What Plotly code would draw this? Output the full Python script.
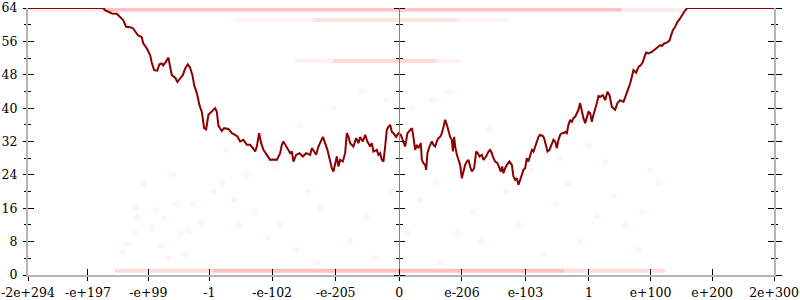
import plotly.graph_objects as go

# x axis: float bit pattern (units of 1e18), y: value 0..64
X_TICKS = [-9.010, -7.554, -6.088, -4.607, -3.081, -1.540, 0.0,
           1.525, 3.066, 4.607, 6.103, 7.599, 9.100]
X_LABELS = ["-2e+294", "-e+197", "-e+99", "-1", "-e-102", "-e-205", "0",
            "e-206", "e-103", "1", "e+100", "e+200", "2e+300"]
Y_TICKS = [0, 8, 16, 24, 32, 40, 48, 56, 64]
Y_MINOR = [4, 12, 20, 28, 36, 44, 52, 60]
X_RANGE = [-9.010, 9.100]

line_x = [-9.010, -7.186, -7.138, -6.975, -6.854, -6.774, -6.701, -6.628, -6.531, -6.458,
          -6.385, -6.337, -6.247, -6.215, -6.125, -6.045, -6.004, -5.948, -5.875, -5.819,
          -5.761, -5.730, -5.664, -5.601, -5.560, -5.518, -5.438, -5.382, -5.317, -5.251,
          -5.195, -5.130, -5.074, -5.018, -4.977, -4.911, -4.848, -4.790, -4.734, -4.686,
          -4.630, -4.547, -4.467, -4.426, -4.387, -4.305, -4.249, -4.144, -4.062, -3.982,
          -3.926, -3.860, -3.780, -3.698, -3.617, -3.552, -3.496, -3.455, -3.399, -3.350,
          -3.294, -3.212, -3.132, -3.052, -2.969, -2.889, -2.848, -2.809, -2.726, -2.646,
          -2.605, -2.566, -2.501, -2.420, -2.338, -2.258, -2.161, -2.119, -2.064, -2.015,
          -1.959, -1.901, -1.852, -1.797, -1.741, -1.692, -1.634, -1.595, -1.554, -1.513,
          -1.474, -1.432, -1.367, -1.311, -1.270, -1.231, -1.190, -1.110, -1.044, -0.988,
          -0.947, -0.881, -0.825, -0.770, -0.704, -0.663, -0.624, -0.541, -0.503, -0.461,
          -0.420, -0.381, -0.340, -0.299, -0.260, -0.218, -0.177, -0.138, -0.073, -0.017,
          0.041, 0.104, 0.146, 0.202, 0.267, 0.308, 0.333, 0.364, 0.388, 0.430,
          0.469, 0.527, 0.551, 0.590, 0.631, 0.656, 0.687, 0.736, 0.794, 0.833,
          0.874, 0.915, 0.954, 0.995, 1.037, 1.076, 1.117, 1.158, 1.197, 1.238,
          1.279, 1.304, 1.335, 1.360, 1.401, 1.440, 1.481, 1.522, 1.561, 1.602,
          1.644, 1.682, 1.724, 1.765, 1.821, 1.869, 1.911, 1.950, 2.008, 2.047,
          2.112, 2.168, 2.209, 2.251, 2.289, 2.331, 2.387, 2.435, 2.469, 2.501,
          2.532, 2.573, 2.615, 2.678, 2.736, 2.775, 2.816, 2.857, 2.896, 2.938,
          2.979, 3.018, 3.059, 3.100, 3.139, 3.180, 3.222, 3.261, 3.302, 3.343,
          3.382, 3.423, 3.489, 3.520, 3.569, 3.601, 3.649, 3.707, 3.746, 3.787,
          3.829, 3.867, 3.909, 3.950, 3.989, 4.030, 4.071, 4.110, 4.152, 4.193,
          4.232, 4.273, 4.314, 4.353, 4.394, 4.436, 4.474, 4.516, 4.557, 4.596,
          4.637, 4.678, 4.717, 4.758, 4.800, 4.839, 4.880, 4.945, 5.001, 5.057,
          5.106, 5.164, 5.244, 5.300, 5.365, 5.446, 5.511, 5.567, 5.608, 5.649,
          5.688, 5.754, 5.810, 5.868, 5.917, 5.955, 5.997, 6.052, 6.135, 6.215,
          6.295, 6.337, 6.378, 6.434, 6.499, 6.562, 6.604, 6.645, 6.701, 6.757,
          6.822, 6.864, 6.919, 6.985, 7.016, 9.100]
line_y = [64.0, 64.0, 63.5, 62.7, 62.6, 61.9, 61.1, 59.5, 59.4, 59.1,
          58.0, 57.4, 57.0, 55.6, 54.3, 52.7, 50.8, 49.1, 49.0, 50.5,
          50.7, 50.2, 51.1, 52.1, 49.9, 47.9, 47.3, 46.3, 47.1, 47.9,
          49.5, 50.5, 49.7, 47.9, 45.5, 43.6, 40.7, 39.1, 35.2, 34.9,
          38.4, 39.3, 40.0, 39.1, 35.8, 34.5, 35.2, 35.0, 34.0, 33.6,
          33.2, 32.0, 32.4, 31.2, 31.2, 30.4, 29.6, 30.8, 34.0, 31.6,
          30.0, 28.8, 27.6, 27.7, 27.6, 29.2, 31.2, 32.0, 30.4, 29.2,
          29.6, 27.2, 28.8, 29.2, 28.4, 29.2, 28.8, 30.4, 29.6, 28.8,
          30.8, 32.0, 33.1, 31.6, 30.0, 28.0, 25.6, 24.8, 26.8, 28.4,
          26.0, 27.6, 27.2, 29.2, 34.0, 33.1, 31.6, 30.8, 32.8, 31.6,
          33.1, 32.0, 33.6, 32.0, 30.8, 31.6, 29.6, 30.0, 28.8, 29.2,
          27.6, 27.2, 30.8, 34.8, 35.5, 36.0, 34.3, 34.0, 33.1, 34.0,
          33.6, 32.0, 30.8, 34.0, 34.8, 35.2, 34.0, 31.6, 30.0, 31.2,
          30.4, 31.6, 27.6, 26.8, 26.4, 25.2, 29.2, 30.8, 32.0, 31.2,
          30.8, 32.0, 32.8, 33.1, 34.0, 35.5, 37.2, 36.0, 34.3, 33.1,
          32.4, 29.6, 33.1, 30.8, 28.8, 27.6, 26.4, 23.2, 25.2, 26.4,
          27.2, 27.6, 26.0, 24.8, 25.6, 29.6, 29.2, 28.4, 28.8, 27.6,
          28.4, 29.6, 30.0, 29.2, 28.0, 27.2, 26.8, 25.6, 24.8, 26.0,
          24.4, 25.6, 26.4, 27.2, 26.4, 23.6, 22.8, 23.2, 21.6, 22.8,
          24.4, 25.2, 25.6, 28.0, 27.2, 28.8, 30.0, 29.6, 30.8, 32.4,
          33.1, 33.6, 33.3, 32.8, 30.8, 29.6, 30.0, 31.2, 32.4, 32.0,
          30.4, 32.4, 33.6, 34.0, 34.0, 34.3, 34.0, 36.0, 37.2, 36.7,
          37.6, 37.9, 38.8, 39.6, 41.2, 39.1, 37.6, 36.4, 37.9, 39.1,
          38.8, 36.7, 38.4, 39.6, 41.2, 42.9, 42.7, 43.1, 41.9, 43.9,
          43.1, 40.3, 39.6, 41.2, 41.9, 41.5, 43.6, 44.8, 45.9, 47.7,
          49.1, 48.5, 49.9, 50.3, 51.1, 52.3, 53.3, 53.1, 53.5, 54.1,
          54.7, 55.1, 54.9, 55.5, 55.7, 56.2, 57.5, 58.7, 59.5, 60.7,
          61.5, 62.3, 63.1, 63.9, 64.0, 64.0]

# dense bands of faint samples: (x start, x end, y, opacity)
band_x0 = [-8.95, -7.20, -4.03, -2.10, -2.52, -1.60, -6.90, -4.50]
band_x1 = [6.90, 5.40, 2.62, 1.40, 1.48, 0.90, 6.46, 4.00]
band_y = [63.6, 63.6, 61.1, 61.1, 51.3, 51.3, 1.0, 1.0]
band_a = [0.08, 0.16, 0.05, 0.06, 0.06, 0.09, 0.14, 0.12]

dot_x = [-6.4, -6.35, -5.9, -5.7, -6.0, -6.4, -6.6, -6.7, -5.8, -5.3, -5.1, -4.8, -5.0,
         -5.4, -5.2, -5.6, -4.5, -4.3, -4.0, -3.7, -3.5, -3.2, -2.9, -2.5, -2.2, -1.9,
         -1.5, -1.2, -0.8, -0.5, -0.3, -0.9, -1.6, -0.2, -0.6, -2.0, -3.0, -4.2, -5.5,
         -6.2, 0.3, 0.8, 1.2, 0.5, 0.9, 1.4, 1.8, 2.2, 2.6, 2.9, 3.2, 3.5, 3.8, 4.1, 4.4,
         4.8, 5.2, 5.5, 5.8, 6.1, 6.3, 4.6, 3.9, 5.0, 2.0, 1.0, 0.2, 5.9, -2.4, -3.9]
dot_y = [16, 14, 15.5, 13.5, 11, 10, 7.5, 5.5, 7, 10, 10.5, 12.5, 17,
         17, 5, 4, 20, 22, 18, 24, 15, 9, 12, 6, 20, 16,
         25, 8, 14, 30, 42, 44, 40, 20, 4, 3, 26, 30, 24,
         22, 40, 42, 44, 18, 22, 10, 15, 35, 20, 12, 25, 5, 17, 22, 8,
         14, 19, 12, 6, 25, 22, 31, 28, 27, 8, 3, 10, 15, 36, 12]

LINE_COLOR = "#8b0000"
FONT = "DejaVu Serif"
FS = 12.5

fig = go.Figure()

for x0, x1, yv, a in zip(band_x0, band_x1, band_y, band_a):
    fig.add_trace(go.Scatter(x=[x0, x1], y=[yv, yv], mode="lines",
                             line=dict(color=f"rgba(255,0,0,{a})", width=4),
                             hoverinfo="skip", showlegend=False))

fig.add_trace(go.Scatter(x=dot_x, y=dot_y, mode="markers",
                         marker=dict(size=5, color="rgba(255,0,0,0.03)",
                                     line=dict(width=1, color="rgba(255,0,0,0.05)")),
                         hoverinfo="skip", showlegend=False))

fig.add_trace(go.Scatter(x=line_x, y=line_y, mode="lines",
                         line=dict(color=LINE_COLOR, width=2),
                         hoverinfo="skip", showlegend=False))

# empty traces to attach overlay axes
for xa, ya in [("x2", "y"), ("x", "y2"), ("x", "y3"), ("x", "y4"), ("x", "y5"), ("x", "y6")]:
    fig.add_trace(go.Scatter(x=[], y=[], xaxis=xa, yaxis=ya, showlegend=False))

zero_pos = (0 - X_RANGE[0]) / (X_RANGE[1] - X_RANGE[0])

common_y = dict(range=[0, 64], tickvals=Y_TICKS, showgrid=False, zeroline=False,
                tickcolor="black", tickwidth=1, fixedrange=True, automargin=False,
                tickfont=dict(family=FONT, size=FS, color="black"))

fig.update_layout(
    template="none",
    width=800, height=300,
    margin=dict(l=28, r=26, t=8, b=25, autoexpand=False),
    paper_bgcolor="white", plot_bgcolor="white",
    font=dict(family=FONT, size=FS, color="black"),
    xaxis=dict(range=X_RANGE, tickvals=X_TICKS, ticktext=X_LABELS, showgrid=False,
               zeroline=False, ticks="outside", ticklen=4, tickcolor="black", tickwidth=1,
               showline=True, linecolor="#b5b5b5", linewidth=2, ticklabelstandoff=1,
               automargin=False, tickfont=dict(family=FONT, size=FS, color="black")),
    xaxis2=dict(range=X_RANGE, tickvals=X_TICKS, overlaying="x", anchor="y", showgrid=False,
                zeroline=False, ticks="inside", ticklen=6, tickcolor="black", tickwidth=1,
                showticklabels=False, showline=False, automargin=False),
    yaxis=dict(**common_y, ticks="outside", ticklen=3, showline=True, linecolor="#b5b5b5",
               linewidth=2, ticklabelstandoff=3,
               minor=dict(tickvals=Y_MINOR, ticks="outside", ticklen=2, tickcolor="black")),
    yaxis2=dict(**common_y, overlaying="y", side="left", anchor="x", ticks="inside", ticklen=6,
                showticklabels=False,
                minor=dict(tickvals=Y_MINOR, ticks="inside", ticklen=3, tickcolor="black")),
    yaxis3=dict(**common_y, overlaying="y", side="right", anchor="x", ticks="outside", ticklen=6,
                showticklabels=False, showline=True, linecolor="#b5b5b5", linewidth=2,
                minor=dict(tickvals=Y_MINOR, ticks="outside", ticklen=2, tickcolor="black")),
    yaxis4=dict(**common_y, overlaying="y", side="right", anchor="x", ticks="inside", ticklen=6,
                showticklabels=False,
                minor=dict(tickvals=Y_MINOR, ticks="inside", ticklen=3, tickcolor="black")),
    yaxis5=dict(**common_y, overlaying="y", side="left", anchor="free", position=zero_pos,
                ticks="outside", ticklen=5, showticklabels=False, showline=True,
                linecolor="#808080", linewidth=1,
                minor=dict(tickvals=Y_MINOR, ticks="outside", ticklen=3, tickcolor="black")),
    yaxis6=dict(**common_y, overlaying="y", side="right", anchor="free", position=zero_pos,
                ticks="outside", ticklen=5, showticklabels=False,
                minor=dict(tickvals=Y_MINOR, ticks="outside", ticklen=3, tickcolor="black")),
)

fig.write_html("out.html")
